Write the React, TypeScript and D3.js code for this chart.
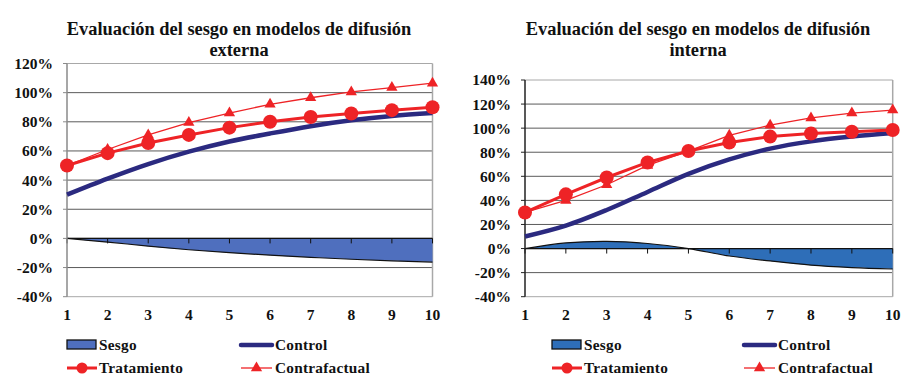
import * as d3 from "d3";

// categories (periods)
const periods = [1, 2, 3, 4, 5, 6, 7, 8, 9, 10];

// external diffusion chart
const extControl = [30, 41, 51, 59.5, 66.5, 72, 77, 81, 84, 86];
const extTratamiento = [50, 58.5, 65.5, 71, 76, 80, 83.3, 85.7, 88, 90];
const extContrafactual = [50, 61, 71, 79.5, 86, 92, 96.5, 100.5, 103.5, 106.5];
const extSesgo = [0, -2.5, -5.3, -7.8, -9.8, -11.5, -13, -14.3, -15.4, -16.3];
const extTicks = [-40, -20, 0, 20, 40, 60, 80, 100, 120];

// internal diffusion chart
const intControl = [10, 19, 32, 47, 62, 74, 83, 89, 93, 96];
const intTratamiento = [30, 45, 59, 71.5, 81, 88, 93, 95.5, 97, 98.5];
const intContrafactual = [30, 40, 53, 69, 81, 94, 102.5, 108.5, 112.5, 115];
const intSesgo = [0, 4.7, 6, 4.2, 0, -6.2, -10.3, -13.8, -15.8, -17];
const intTicks = [-40, -20, 0, 20, 40, 60, 80, 100, 120, 140];

const RED = "#ee2326";
const NAVY = "#2b2a80";
const FONT = "Liberation Serif";

interface ChartProps {
  title: string[];
  control: number[];
  tratamiento: number[];
  contrafactual: number[];
  sesgo: number[];
  ticks: number[];
  left: number;
  right: number;
  top: number;
  bottom: number;
  titleX: number;
  areaColor: string;
  axisColor: string;
  legendX: number[];
}

const tri = d3.symbol().type(d3.symbolTriangle).size(55)() as string;
const txt = { fontFamily: FONT, fontWeight: 700 };

function Chart(p: ChartProps) {
  const x = d3.scaleLinear().domain([1, 10]).range([p.left, p.right]);
  const y = d3
    .scaleLinear()
    .domain([p.ticks[0], p.ticks[p.ticks.length - 1]])
    .range([p.bottom, p.top]);

  const smooth = d3
    .line<number>()
    .x((_, i) => x(periods[i]))
    .y((d) => y(d))
    .curve(d3.curveCatmullRom.alpha(0.5));
  const straight = d3
    .line<number>()
    .x((_, i) => x(periods[i]))
    .y((d) => y(d));
  const area = d3
    .area<number>()
    .x((_, i) => x(periods[i]))
    .y0(y(0))
    .y1((d) => y(d))
    .curve(d3.curveCatmullRom.alpha(0.5));

  const [lx1, lx2] = p.legendX;
  const ly1 = 345;
  const ly2 = 368;

  return (
    <g>
      {p.title.map((t, i) => (
        <text
          key={t}
          x={p.titleX}
          y={35 + i * 21}
          textAnchor="middle"
          style={txt}
          fontSize={18.4}
          fill="#111"
        >
          {t}
        </text>
      ))}

      {/* grid */}
      {p.ticks.map((t) => (
        <line
          key={t}
          x1={p.left}
          x2={p.right}
          y1={y(t)}
          y2={y(t)}
          stroke={t === p.ticks[0] || t === p.ticks[p.ticks.length - 1] ? "#a8a8a8" : "#5a5a5a"}
          strokeWidth={1}
        />
      ))}
      <line x1={p.right} x2={p.right} y1={p.top} y2={p.bottom} stroke="#a8a8a8" strokeWidth={1.5} />

      {/* sesgo area */}
      <path d={area(p.sesgo) as string} fill={p.areaColor} />
      <path d={smooth(p.sesgo) as string} fill="none" stroke="#111" strokeWidth={1.2} />

      {/* zero line with ticks */}
      <line x1={p.left} x2={p.right} y1={y(0)} y2={y(0)} stroke="#111" strokeWidth={1.3} />
      {periods.map((c) => (
        <line key={c} x1={x(c)} x2={x(c)} y1={y(0)} y2={y(0) + 5} stroke="#111" strokeWidth={1} />
      ))}

      {/* y axis */}
      <line x1={p.left} x2={p.left} y1={p.top} y2={p.bottom} stroke={p.axisColor} strokeWidth={1.5} />
      {p.ticks.map((t) => (
        <g key={t}>
          <line x1={p.left - 4} x2={p.left} y1={y(t)} y2={y(t)} stroke={p.axisColor} />
          <text
            x={p.left - 14}
            y={y(t)}
            dy="0.35em"
            textAnchor="end"
            style={txt}
            fontSize={15.5}
            fill="#111"
          >
            {t}%
          </text>
        </g>
      ))}
      {periods.map((c) => (
        <text
          key={c}
          x={x(c)}
          y={p.bottom + 23}
          textAnchor="middle"
          style={txt}
          fontSize={15.5}
          fill="#111"
        >
          {c}
        </text>
      ))}

      {/* series */}
      <path d={smooth(p.control) as string} fill="none" stroke={NAVY} strokeWidth={4.5} />
      <path d={straight(p.contrafactual) as string} fill="none" stroke={RED} strokeWidth={1.3} />
      {p.contrafactual.map((v, i) => (
        <path key={i} d={tri} transform={`translate(${x(periods[i])},${y(v)})`} fill={RED} />
      ))}
      <path d={straight(p.tratamiento) as string} fill="none" stroke={RED} strokeWidth={3} />
      {p.tratamiento.map((v, i) => (
        <circle key={i} cx={x(periods[i])} cy={y(v)} r={7} fill={RED} />
      ))}

      {/* legend */}
      <rect x={lx1} y={ly1 - 5} width={29} height={9} fill={p.areaColor} stroke="#111" strokeWidth={1.3} />
      <line x1={lx2} x2={lx2 + 31} y1={ly1} y2={ly1} stroke={NAVY} strokeWidth={4.5} strokeLinecap="round" />
      <line x1={lx1} x2={lx1 + 30} y1={ly2} y2={ly2} stroke={RED} strokeWidth={3} />
      <circle cx={lx1 + 15} cy={ly2} r={5.5} fill={RED} />
      <line x1={lx2} x2={lx2 + 31} y1={ly2} y2={ly2} stroke={RED} strokeWidth={1.3} />
      <path d={tri} transform={`translate(${lx2 + 15.5},${ly2})`} fill={RED} />
      {[
        ["Sesgo", lx1 + 32, ly1],
        ["Control", lx2 + 34, ly1],
        ["Tratamiento", lx1 + 32, ly2],
        ["Contrafactual", lx2 + 34, ly2],
      ].map(([t, tx, ty]) => (
        <text
          key={t as string}
          x={tx as number}
          y={ty as number}
          dy="0.35em"
          style={txt}
          fontSize={15.3}
          letterSpacing={0.25}
          fill="#111"
        >
          {t}
        </text>
      ))}
    </g>
  );
}

export default function App() {
  return (
    <svg
      width={918}
      height={386}
      style={{ position: "absolute", left: 0, top: 0, background: "#fff" }}
    >
      <Chart
        title={["Evaluación del sesgo en modelos de difusión", "externa"]}
        control={extControl}
        tratamiento={extTratamiento}
        contrafactual={extContrafactual}
        sesgo={extSesgo}
        ticks={extTicks}
        left={67}
        right={432.5}
        top={63.5}
        bottom={296.7}
        titleX={239}
        areaColor="#4f6fbe"
        axisColor="#8a8a8a"
        legendX={[67, 241]}
      />
      <Chart
        title={["Evaluación del sesgo en modelos de difusión", "interna"]}
        control={intControl}
        tratamiento={intTratamiento}
        contrafactual={intContrafactual}
        sesgo={intSesgo}
        ticks={intTicks}
        left={525}
        right={892.7}
        top={80}
        bottom={296.7}
        titleX={698}
        areaColor="#2e6eb8"
        axisColor="#222"
        legendX={[552, 744]}
      />
    </svg>
  );
}
